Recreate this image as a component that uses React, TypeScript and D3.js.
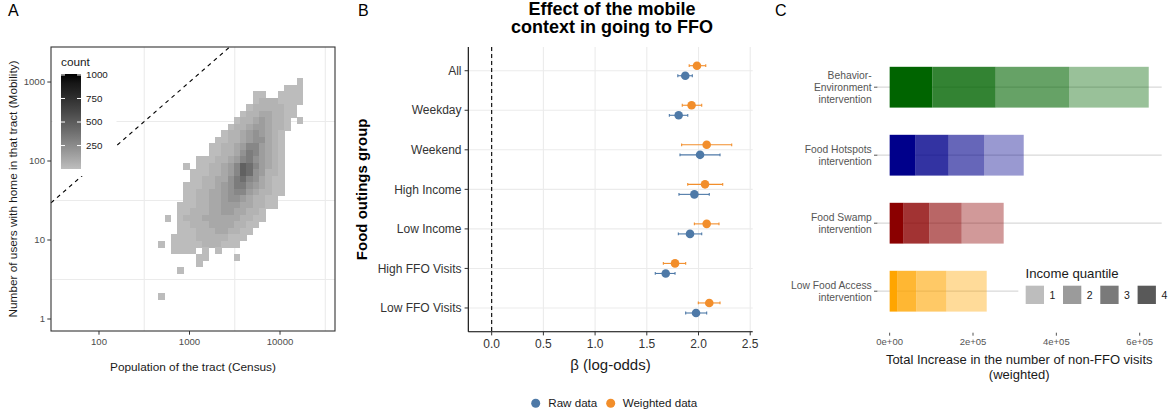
import * as d3 from "d3";

// ---------- Panel A : census population vs mobility users (log-log bins) ----------
const A_X_DOMAIN = [29.5, 40500];
const A_Y_DOMAIN = [0.705, 2775];
const A_X_TICKS = [100, 1000, 10000];
const A_Y_TICKS = [1, 10, 100, 1000];
const A_X_MINOR = [316.2, 3162, 31623];
const A_Y_MINOR = [3.162, 31.62, 316.2];
// bin layout in log10 units
const BIN_X0 = 2.655;
const BIN_XW = 0.0696;
const BIN_Y0 = 0.247;
const BIN_YW = 0.0823;
// count read for each shade level of the grid below
const LEVEL_COUNTS = [0, 12, 55, 105, 160, 215, 270, 330, 400, 470];
// rows from top bin to bottom bin, "." = empty bin
const HEAT_ROWS = [
  "......................1",
  "....................111",
  "...............11..1111",
  "...............12221111",
  "..............12222211.",
  ".............122332211.",
  "............122343221.1",
  "...........1223443221..",
  "..........1223454321...",
  ".........11223455321...",
  "........112234664321...",
  "........112235764321...",
  "......11122346754321...",
  "....1.11223469864321...",
  ".....111223469854221...",
  ".....112233578653211...",
  "....1112234577543211...",
  "....1122334566432211...",
  "....112233455432211....",
  "...1112233444332211....",
  "...11222334433221......",
  ".1.12223333332211......",
  "...1122233332211.......",
  "...111222332211........",
  "..111122222111.........",
  "1.11111222111..........",
  "..1111.1.1.............",
  "......11....1..........",
  "......1................",
  "...1...................",
  ".......................",
  ".......................",
  ".......................",
  "1......................",
];
const COUNT_RANGE = [1, 1010];
const COUNT_BREAKS = [250, 500, 750, 1000];

// ---------- Panel B : effect of the mobile context ----------
const GROUPS = ["All", "Weekday", "Weekend", "High Income", "Low Income", "High FFO Visits", "Low FFO Visits"];
const RAW_EST = [1.872, 1.808, 2.015, 1.96, 1.918, 1.683, 1.976];
const RAW_LO = [1.8, 1.718, 1.821, 1.811, 1.805, 1.582, 1.876];
const RAW_HI = [1.94, 1.896, 2.208, 2.104, 2.031, 1.773, 2.079];
const W_EST = [1.985, 1.933, 2.079, 2.063, 2.079, 1.773, 2.104];
const W_LO = [1.91, 1.843, 1.837, 1.896, 1.96, 1.66, 1.998];
const W_HI = [2.07, 2.031, 2.321, 2.234, 2.198, 1.876, 2.208];
const B_X_DOMAIN = [-0.226, 2.524];
const B_X_TICKS = [0, 0.5, 1, 1.5, 2, 2.5];
const RAW_COLOR = "#4e79a7";
const W_COLOR = "#f28e2b";

// ---------- Panel C : increase of non-FFO visits ----------
const INTERVENTIONS = [
  ["Behavior-", "Environment", "intervention"],
  ["Food Hotspots", "intervention"],
  ["Food Swamp", "intervention"],
  ["Low Food Access", "intervention"],
];
const BASE_COLORS = ["#006400", "#00008b", "#8b0000", "#ffa500"];
const Q1 = [191300, 95300, 100800, 96800];
const Q2 = [176000, 84800, 77500, 72000];
const Q3 = [152000, 79200, 61700, 44900];
const Q4 = [102400, 62400, 33600, 19200];
const QUANTILES = ["1", "2", "3", "4"];
const QUANTILE_ALPHA = [0.4, 0.6, 0.8, 1];
const C_X_TICKS = [0, 2e5, 4e5, 6e5];

const FONT = "'Liberation Sans', Arial, Helvetica, sans-serif";

function sciLabel(v: number) {
  if (v === 0) return "0e+00";
  const e = Math.floor(Math.log10(v));
  const m = Math.round(v / Math.pow(10, e));
  return `${m}e+${String(e).padStart(2, "0")}`;
}

function PanelA() {
  const L = 51, R = 335, T = 47, Bt = 331;
  const x = d3.scaleLog().domain(A_X_DOMAIN).range([L, R]);
  const y = d3.scaleLog().domain(A_Y_DOMAIN).range([Bt, T]);
  const fill = d3
    .scaleLinear<string>()
    .domain(COUNT_RANGE)
    .range(["#bebebe", "#000000"])
    .interpolate(d3.interpolateLab);

  const cells: { x0: number; x1: number; y0: number; y1: number; c: number }[] = [];
  HEAT_ROWS.forEach((row, i) => {
    const r = HEAT_ROWS.length - 1 - i;
    for (let k = 0; k < row.length; k++) {
      const ch = row[k];
      if (ch === ".") continue;
      cells.push({
        x0: Math.pow(10, BIN_X0 + k * BIN_XW),
        x1: Math.pow(10, BIN_X0 + (k + 1) * BIN_XW),
        y0: Math.pow(10, BIN_Y0 + r * BIN_YW),
        y1: Math.pow(10, BIN_Y0 + (r + 1) * BIN_YW),
        c: LEVEL_COUNTS[+ch],
      });
    }
  });

  const lo = Math.max(A_X_DOMAIN[0], A_Y_DOMAIN[0]);
  const hi = Math.min(A_X_DOMAIN[1], A_Y_DOMAIN[1]);

  // legend
  const legY = d3.scaleLinear().domain(COUNT_RANGE).range([169, 74]);
  const stops = d3.range(0, 1.0001, 0.1);

  return (
    <g>
      <text x={8} y={15.5} fontSize={16} fill="#000">A</text>
      <defs>
        <clipPath id="clipA">
          <rect x={L} y={T} width={R - L} height={Bt - T} />
        </clipPath>
        <linearGradient id="countGrad" x1="0" y1="1" x2="0" y2="0">
          {stops.map((t) => (
            <stop key={t} offset={t} stopColor={fill(COUNT_RANGE[0] + t * (COUNT_RANGE[1] - COUNT_RANGE[0]))} />
          ))}
        </linearGradient>
      </defs>
      {A_X_MINOR.map((v) => (
        <line key={"gx" + v} x1={x(v)} x2={x(v)} y1={T} y2={Bt} stroke="#ebebeb" strokeWidth={1.1} />
      ))}
      {A_Y_MINOR.map((v) => (
        <line key={"gy" + v} x1={L} x2={R} y1={y(v)} y2={y(v)} stroke="#ebebeb" strokeWidth={1.1} />
      ))}
      <g shapeRendering="crispEdges" clipPath="url(#clipA)">
        {cells.map((d, i) => (
          <rect
            key={i}
            x={x(d.x0)}
            y={y(d.y1)}
            width={x(d.x1) - x(d.x0) + 0.3}
            height={y(d.y0) - y(d.y1) + 0.3}
            fill={fill(d.c)}
          />
        ))}
      </g>
      <line x1={x(lo)} y1={y(lo)} x2={x(hi)} y2={y(hi)} stroke="#000" strokeWidth={1.1} strokeDasharray="4,4" />
      <rect x={L} y={T} width={R - L} height={Bt - T} fill="none" stroke="#333" strokeWidth={1.1} />
      {/* axes */}
      {A_X_TICKS.map((v) => (
        <g key={"tx" + v}>
          <line x1={x(v)} x2={x(v)} y1={Bt} y2={Bt + 3.7} stroke="#333" />
          <text x={x(v)} y={344.5} fontSize={9.6} fill="#4d4d4d" textAnchor="middle">{v}</text>
        </g>
      ))}
      {A_Y_TICKS.map((v) => (
        <g key={"ty" + v}>
          <line x1={L - 3.7} x2={L} y1={y(v)} y2={y(v)} stroke="#333" />
          <text x={45} y={y(v)} dy="0.35em" fontSize={9.6} fill="#4d4d4d" textAnchor="end">{v}</text>
        </g>
      ))}
      <text x={(L + R) / 2} y={371} fontSize={11.8} fill="#1a1a1a" textAnchor="middle">
        Population of the tract (Census)
      </text>
      <text
        transform={`translate(17,${(T + Bt) / 2}) rotate(-90)`}
        fontSize={11.8}
        fill="#1a1a1a"
        textAnchor="middle"
      >
        Number of users with home in that tract (Mobility)
      </text>
      {/* legend */}
      <rect x={52.5} y={50} width={64} height={126} fill="#fff" />
      <text x={61} y={66} fontSize={11.8} fill="#1a1a1a">count</text>
      <rect x={61} y={74} width={20} height={95} fill="url(#countGrad)" />
      {COUNT_BREAKS.map((v) => (
        <g key={"lb" + v}>
          <line x1={61} x2={65} y1={legY(v)} y2={legY(v)} stroke="#fff" strokeWidth={1} />
          <line x1={77} x2={81} y1={legY(v)} y2={legY(v)} stroke="#fff" strokeWidth={1} />
          <text x={86} y={legY(v)} dy="0.35em" fontSize={9.8} fill="#1a1a1a">{v}</text>
        </g>
      ))}
    </g>
  );
}

function PanelB() {
  const L = 468.3, R = 752.7, T = 47, Bt = 331.7;
  const x = d3.scaleLinear().domain(B_X_DOMAIN).range([L, R]);
  const y = d3.scalePoint<string>().domain(GROUPS).range([T, Bt]).padding(0.6);
  const dodge = y.step() * 0.127;

  const series = [
    { name: "Weighted data", color: W_COLOR, est: W_EST, lo: W_LO, hi: W_HI, off: -dodge },
    { name: "Raw data", color: RAW_COLOR, est: RAW_EST, lo: RAW_LO, hi: RAW_HI, off: dodge },
  ];

  return (
    <g>
      <text x={358} y={15.5} fontSize={16} fill="#000">B</text>
      <text x={612} y={14.5} fontSize={18} fontWeight="bold" textAnchor="middle" fill="#000">
        Effect of the mobile
      </text>
      <text x={612} y={33} fontSize={18} fontWeight="bold" textAnchor="middle" fill="#000">
        context in going to FFO
      </text>
      {B_X_TICKS.map((v) => (
        <line key={"gx" + v} x1={x(v)} x2={x(v)} y1={T} y2={Bt} stroke="#ebebeb" strokeWidth={1.1} />
      ))}
      {GROUPS.map((g) => (
        <line key={"gy" + g} x1={L} x2={R} y1={y(g)!} y2={y(g)!} stroke="#ebebeb" strokeWidth={1.1} />
      ))}
      <line x1={x(0)} x2={x(0)} y1={T} y2={Bt} stroke="#000" strokeWidth={1.1} strokeDasharray="4,3" />
      {series.map((s) =>
        GROUPS.map((g, i) => {
          const cy = y(g)! + s.off;
          return (
            <g key={s.name + g}>
              <line x1={x(s.lo[i])} x2={x(s.hi[i])} y1={cy} y2={cy} stroke={s.color} strokeWidth={1.1} />
              <line x1={x(s.lo[i])} x2={x(s.lo[i])} y1={cy - 1.4} y2={cy + 1.4} stroke={s.color} strokeWidth={1.1} />
              <line x1={x(s.hi[i])} x2={x(s.hi[i])} y1={cy - 1.4} y2={cy + 1.4} stroke={s.color} strokeWidth={1.1} />
              <circle cx={x(s.est[i])} cy={cy} r={4.3} fill={s.color} />
            </g>
          );
        })
      )}
      {/* axes */}
      <line x1={L} x2={L} y1={T} y2={Bt} stroke="#000" strokeWidth={1.1} />
      <line x1={L} x2={R} y1={Bt} y2={Bt} stroke="#000" strokeWidth={1.1} />
      {B_X_TICKS.map((v) => (
        <g key={"tx" + v}>
          <line x1={x(v)} x2={x(v)} y1={Bt} y2={Bt + 3.7} stroke="#333" />
          <text x={x(v)} y={348} fontSize={12} fill="#333" textAnchor="middle">{v.toFixed(1)}</text>
        </g>
      ))}
      {GROUPS.map((g) => (
        <g key={"ty" + g}>
          <line x1={L - 3.7} x2={L} y1={y(g)!} y2={y(g)!} stroke="#333" />
          <text x={461.5} y={y(g)!} dy="0.35em" fontSize={12} fill="#333" textAnchor="end">{g}</text>
        </g>
      ))}
      <text x={(L + R) / 2} y={370} fontSize={15} fill="#1a1a1a" textAnchor="middle">β (log-odds)</text>
      <text
        transform={`translate(366.8,${(T + Bt) / 2}) rotate(-90)`}
        fontSize={15}
        fontWeight="bold"
        fill="#000"
        textAnchor="middle"
      >
        Food outings group
      </text>
      {/* legend */}
      <circle cx={535.7} cy={403.3} r={4.5} fill={RAW_COLOR} />
      <text x={548.3} y={403.3} dy="0.35em" fontSize={11.6} fill="#1a1a1a">Raw data</text>
      <circle cx={610.7} cy={403.3} r={4.5} fill={W_COLOR} />
      <text x={622.7} y={403.3} dy="0.35em" fontSize={11.6} fill="#1a1a1a">Weighted data</text>
    </g>
  );
}

function PanelC() {
  const L = 876.7, R = 1161.7, T = 46.4, Bt = 332;
  const quant = [Q1, Q2, Q3, Q4];
  const totals = INTERVENTIONS.map((_, i) => quant.reduce((s, q) => s + q[i], 0));
  const maxT = d3.max(totals)!;
  const x = d3.scaleLinear().domain([-0.05 * maxT, 1.05 * maxT]).range([L, R]);
  const keys = INTERVENTIONS.map((_, i) => String(i));
  const y = d3.scalePoint<string>().domain(keys).range([T, Bt]).padding(0.6);
  const barH = y.step() * 0.6;

  // stacked from the top quantile (darkest) on the left
  const order = [3, 2, 1, 0];

  return (
    <g>
      <text x={775} y={15.5} fontSize={16} fill="#000">C</text>
      {keys.map((k) => (
        <line key={"gy" + k} x1={L} x2={R} y1={y(k)!} y2={y(k)!} stroke="#d9d9d9" strokeWidth={1.2} />
      ))}
      {keys.map((k, i) => {
        let acc = 0;
        return (
          <g key={"bar" + k}>
            {order.map((q) => {
              const v = quant[q][i];
              const x0 = acc;
              acc += v;
              return (
                <rect
                  key={q}
                  x={x(x0)}
                  y={y(k)! - barH / 2}
                  width={x(acc) - x(x0)}
                  height={barH}
                  fill={BASE_COLORS[i]}
                  fillOpacity={QUANTILE_ALPHA[q]}
                />
              );
            })}
          </g>
        );
      })}
      {/* y axis labels */}
      {INTERVENTIONS.map((lines, i) => {
        const lh = 11.7;
        const c = y(String(i))!;
        return (
          <g key={"lab" + i}>
            <line x1={874} x2={877.3} y1={c} y2={c} stroke="#555" />
            {lines.map((t, j) => (
              <text
                key={j}
                x={871.7}
                y={c + (j - (lines.length - 1) / 2) * lh}
                dy="0.35em"
                fontSize={10.3}
                fill="#555"
                textAnchor="end"
              >
                {t}
              </text>
            ))}
          </g>
        );
      })}
      {C_X_TICKS.map((v) => (
        <g key={"tx" + v}>
          <line x1={x(v)} x2={x(v)} y1={332.7} y2={335.7} stroke="#555" />
          <text x={x(v)} y={345} fontSize={9.5} fill="#555" textAnchor="middle">{sciLabel(v)}</text>
        </g>
      ))}
      <text x={(L + R) / 2} y={363.8} fontSize={13} fill="#1a1a1a" textAnchor="middle">
        Total Increase in the number of non-FFO visits
      </text>
      <text x={(L + R) / 2} y={378.8} fontSize={13} fill="#1a1a1a" textAnchor="middle">(weighted)</text>
      {/* legend */}
      <rect x={1018.3} y={262} width={156} height={50} fill="#fff" />
      <text x={1025.5} y={277.8} fontSize={13.2} fill="#1a1a1a">Income quantile</text>
      {QUANTILES.map((q, i) => (
        <g key={"lg" + q}>
          <rect x={1025.7 + i * 37.3} y={285.7} width={18.3} height={18.3} fill="#595959" fillOpacity={QUANTILE_ALPHA[i]} />
          <text x={1049.5 + i * 37.3} y={294.9} dy="0.35em" fontSize={10.5} fill="#1a1a1a">{q}</text>
        </g>
      ))}
    </g>
  );
}

export default function App() {
  return (
    <svg
      width={1175}
      height={415}
      style={{ position: "absolute", left: 0, top: 0, background: "#fff" }}
      fontFamily={FONT}
    >
      <rect width={1175} height={415} fill="#fff" />
      <PanelA />
      <PanelB />
      <PanelC />
    </svg>
  );
}
